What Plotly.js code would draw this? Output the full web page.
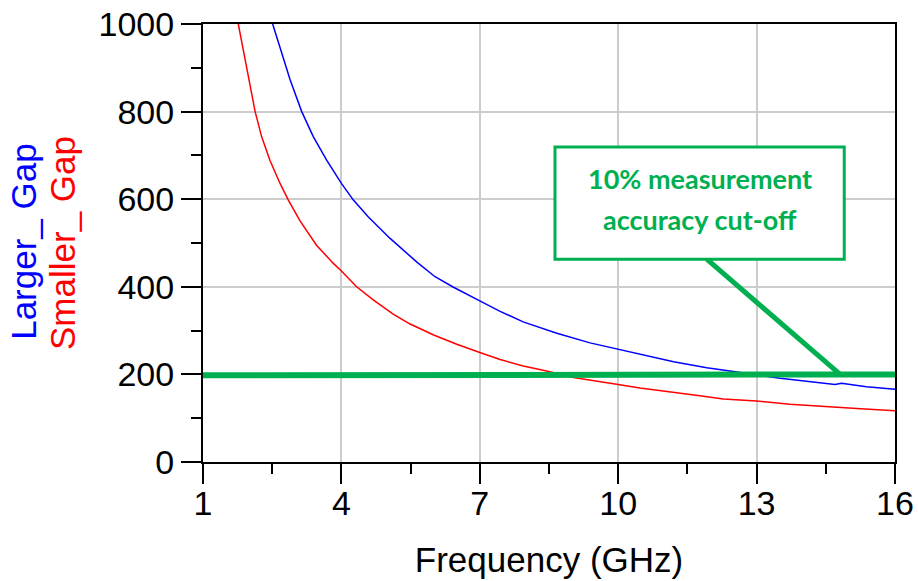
<!DOCTYPE html>
<html>
<head>
<meta charset="utf-8">
<script src="https://cdn.plot.ly/plotly-3.0.1.min.js"></script>
<style>html,body{margin:0;padding:0;background:#fff;}#chart{width:918px;height:581px;}</style>
</head>
<body>
<div id="chart"></div>
<script>
// Larger_Gap (blue)
const largerFreq = [2.51, 2.67, 2.89, 3.14, 3.39, 3.68, 4.0, 4.26, 4.58, 5.05, 5.63, 6.03, 6.43, 7.0, 7.44, 7.94, 8.67, 9.39, 10.0, 10.62, 11.2, 11.92, 12.64, 13.0, 13.51, 14.09, 14.7, 14.84, 15.38, 16.0];
const largerVal  = [1000, 948, 872, 800, 743, 689, 636, 598, 560, 511, 457, 423, 399, 368, 344, 320, 294, 272, 257, 242, 229, 215, 205, 199, 191, 185, 177, 180, 172, 166];
// Smaller_Gap (red)
const smallerFreq = [1.765, 1.95, 2.13, 2.27, 2.45, 2.67, 2.85, 3.10, 3.46, 3.82, 4.0, 4.33, 4.69, 5.13, 5.49, 6.0, 6.5, 7.0, 7.44, 7.94, 8.45, 9.03, 9.53, 10.0, 10.47, 11.2, 11.77, 12.28, 13.0, 13.72, 14.52, 15.17, 16.0];
const smallerVal  = [1000, 902, 800, 743, 689, 636, 598, 551, 495, 454, 436, 400, 370, 337, 315, 290, 269, 250, 234, 219, 208, 193, 184, 177, 169, 158, 151, 144, 139, 132, 126, 122, 117];
// 10% cut-off line
const cutoffFreq = [1, 16];
const cutoffVal  = [198, 200];
// callout
const calloutLines = ["10% measurement", "accuracy cut-off"];
const calloutLineY = [647, 553];
const calloutBoxX = [8.63, 14.90];
const calloutBoxY = [463, 719];
const pointerX = [11.92, 14.81];
const pointerY = [463, 200];
// ticks
const xTicks = [1, 4, 7, 10, 13, 16];
const yTicks = [0, 200, 400, 600, 800, 1000];

const GREEN = '#00B050';
const axisFont = {family: 'Liberation Sans, Arial, sans-serif', size: 34, color: '#000'};

const traces = [
  {x: smallerFreq, y: smallerVal, mode: 'lines', line: {color: '#ff0000', width: 1.5}, showlegend: false, hoverinfo: 'skip'},
  {x: largerFreq, y: largerVal, mode: 'lines', line: {color: '#0000ff', width: 1.5}, showlegend: false, hoverinfo: 'skip'},
  {x: cutoffFreq, y: cutoffVal, mode: 'lines', line: {color: GREEN, width: 6}, showlegend: false, hoverinfo: 'skip', cliponaxis: false},
  {x: pointerX, y: pointerY, mode: 'lines', line: {color: GREEN, width: 5}, showlegend: false, hoverinfo: 'skip'}
];

const calloutAnnotations = calloutLines.map((t, i) => ({
  xref: 'x', yref: 'y', x: (calloutBoxX[0] + calloutBoxX[1]) / 2, y: calloutLineY[i],
  text: '<b>' + t + '</b>', showarrow: false, xanchor: 'center', yanchor: 'middle',
  font: {family: 'Lato, Open Sans, sans-serif', size: 27, color: GREEN}
}));

const layout = {
  width: 918, height: 581,
  margin: {l: 203, r: 23, t: 24, b: 119},
  paper_bgcolor: '#fff', plot_bgcolor: '#fff',
  font: axisFont,
  xaxis: {
    range: [1, 16], tickvals: xTicks, ticktext: xTicks.map(String),
    ticks: 'outside', ticklen: 20, tickwidth: 2, tickcolor: '#000',
    ticklabelstandoff: -10,
    showgrid: true, gridcolor: '#cccccc', gridwidth: 2,
    showline: true, linecolor: '#000', linewidth: 2, mirror: true,
    zeroline: false, tickfont: axisFont,
    minor: {dtick: 1.5, tick0: 1, ticks: 'outside', ticklen: 10, tickwidth: 2, tickcolor: '#000', showgrid: false},
    title: {text: 'Frequency (GHz)', font: {family: 'Liberation Sans, Arial, sans-serif', size: 35, color: '#000'}, standoff: 27}
  },
  yaxis: {
    range: [0, 1000], tickvals: yTicks, ticktext: yTicks.map(String),
    ticks: 'outside', ticklen: 20, tickwidth: 2, tickcolor: '#000',
    showgrid: true, gridcolor: '#cccccc', gridwidth: 2,
    showline: true, linecolor: '#000', linewidth: 2, mirror: true,
    zeroline: false, tickfont: axisFont,
    minor: {dtick: 100, ticks: 'outside', ticklen: 10, tickwidth: 2, tickcolor: '#000', showgrid: false}
  },
  shapes: [
    {type: 'rect', xref: 'x', yref: 'y', x0: calloutBoxX[0], x1: calloutBoxX[1], y0: calloutBoxY[0], y1: calloutBoxY[1],
     fillcolor: '#fff', line: {color: GREEN, width: 3}, layer: 'above'}
  ],
  annotations: calloutAnnotations.concat([
    {xref: 'paper', yref: 'paper', x: (24 - 203) / 692, y: 0.505, textangle: -90, showarrow: false,
     xanchor: 'center', yanchor: 'middle', text: 'Larger_ Gap', font: {family: 'Liberation Sans, Arial, sans-serif', size: 35, color: '#0000ff'}},
    {xref: 'paper', yref: 'paper', x: (62 - 203) / 692, y: 0.5, textangle: -90, showarrow: false,
     xanchor: 'center', yanchor: 'middle', text: 'Smaller_ Gap', font: {family: 'Liberation Sans, Arial, sans-serif', size: 35, color: '#ff0000'}}
  ])
};

Plotly.newPlot('chart', traces, layout, {staticPlot: true, displayModeBar: false});
</script>
</body>
</html>
